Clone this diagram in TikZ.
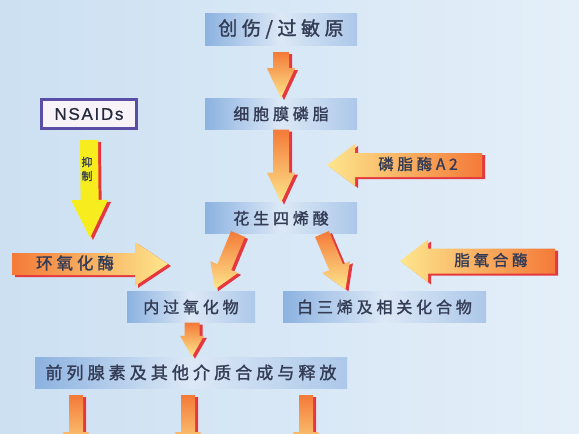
\documentclass[tikz,border=0pt]{standalone}
\usepackage{fontspec}
\newfontfamily\cjk[LetterSpace=24, FakeBold=1.6]{Noto Sans CJK SC}
\newfontfamily\latin[LetterSpace=10, FakeBold=0.8]{Liberation Sans}
\usetikzlibrary{calc}
\usetikzlibrary{positioning}

\definecolor{bgleft}{HTML}{CCE0F2}
\definecolor{bgright}{HTML}{E4EFF9}
\definecolor{boxdark}{HTML}{8CB2E0}
\definecolor{boxlight}{HTML}{DCE8F6}
\definecolor{ink}{HTML}{343C55}
\definecolor{tailorange}{HTML}{F47A38}
\definecolor{headyellow}{HTML}{FDE68C}
\definecolor{shadowred}{HTML}{E5383E}
\definecolor{inhibit}{HTML}{F6EC1E}
\definecolor{nsaidframe}{HTML}{5A4DA6}
\definecolor{nsaidfill}{HTML}{F7F3F9}

\tikzstyle{stage} = [minimum height=31pt, inner sep=0pt, text=ink,
left color=boxdark, right color=boxdark!60!boxlight, middle color=boxlight,
font=\cjk\fontsize{16}{16}\selectfont]
\tikzstyle{enzyme} = [inner sep=0pt, text=ink, font=\cjk\fontsize{15.5}{15.5}\selectfont]

\tikzset{
	fat shaft/.store in=\fatw, fat head/.store in=\fath, fat len/.store in=\fatl,
	fat shaft=8pt, fat head=14pt, fat len=30pt,
	fat/.style={preaction={fill=shadowred, transform canvas={xshift=3pt, yshift=-2pt}},
		to path={let \p1=(\tikztostart), \p2=(\tikztotarget),
			\n1={atan2(\y2-\y1,\x2-\x1)}, \n2={veclen(\x2-\x1,\y2-\y1)} in
			($(\p1)+(\n1+90:\fatw)$) -- ($(\p1)+(\n1:\n2-\fatl)+(\n1+90:\fatw)$)
			-- ($(\p1)+(\n1:\n2-\fatl)+(\n1+90:\fath)$) -- (\p2)
			-- ($(\p1)+(\n1:\n2-\fatl)+(\n1-90:\fath)$)
			-- ($(\p1)+(\n1:\n2-\fatl)+(\n1-90:\fatw)$)
			-- ($(\p1)+(\n1-90:\fatw)$) -- cycle}}
}

\begin{document}
\begin{tikzpicture}[x=1pt, y=-1pt,
	down/.style={fat, top color=tailorange, bottom color=headyellow},
	leftward/.style={fat, left color=headyellow, right color=tailorange,
		fat shaft=12pt, fat head=21pt, fat len=28pt}]
	\shade[left color=bgleft, right color=bgright] (0,0) rectangle (579,434);
	\useasboundingbox (0,0) rectangle (579,434);
	%% Stages
	\node[stage, minimum width=152pt, minimum height=32pt,
		font=\cjk\fontsize{19}{19}\selectfont] (trauma) at (281,29) {创伤/过敏原};
	\node[stage, minimum width=152pt, below=53pt of trauma] (membrane) {细胞膜磷脂};
	\node[stage, minimum width=152pt, below=73pt of membrane] (aa) {花生四烯酸};
	\node[stage, minimum width=128pt] (endo) at (191,307) {内过氧化物};
	\node[stage, minimum width=203pt] (leuko) at (384.5,307) {白三烯及相关化合物};
	\node[stage, minimum width=312pt, font=\cjk\fontsize{17}{17}\selectfont]
		(prost) at (191,372.5) {前列腺素及其他介质合成与释放};
	\node[draw=nsaidframe, line width=3pt, fill=nsaidfill, minimum width=95pt,
		minimum height=29pt, text=ink!70!black,
		font=\latin\fontsize{17}{17}\selectfont] (nsaids) at (89,114) {NSAIDs};
	%% Free ends
	\coordinate (pla2tail) at (482,165);
	\coordinate (pla2tip) at (327,165);
	\coordinate (loxtail) at (555,261);
	\coordinate (loxtip) at (400,261);
	\coordinate (coxtail) at (12,264);
	\coordinate (coxtip) at (168,264);
	\coordinate (blocktip) at (90,238);
	%% Flows
	\path[down] ([yshift=-7pt]trauma.south) to (membrane.north);
	\path[down] (membrane.south) to (aa.north);
	\path[down, fat shaft=7.5pt, fat head=15pt, fat len=24pt]
		([xshift=-43pt]aa.south) to ([xshift=24pt,yshift=2pt]endo.north);
	\path[down, fat shaft=7.5pt, fat head=15pt, fat len=24pt]
		([xshift=41pt]aa.south) to ([xshift=-39pt,yshift=2pt]leuko.north);
	\path[down, fat shaft=7.5pt, fat head=12pt, fat len=21pt]
		([xshift=1pt]endo.south) to ([xshift=1pt]prost.north);
	\foreach \x/\k in {76/1,188/2,306/3} {
		\coordinate (in\k) at (\x,395);
		\coordinate (out\k) at (\x,462);
		\path[down, fat shaft=7pt, fat head=13pt, fat len=30pt] (in\k) to (out\k);
	}
	\path[leftward] (pla2tail) to (pla2tip);
	\path[leftward, fat shaft=12.5pt, fat head=21.5pt] (loxtail) to (loxtip);
	\path[fat, left color=tailorange, right color=headyellow,
		fat shaft=11pt, fat head=22pt, fat len=33pt] (coxtail) to (coxtip);
	\path[fat, fill=inhibit, fat shaft=9pt, fat head=18.5pt, fat len=38pt]
		([yshift=-10pt]nsaids.south) to (blocktip);
	%% Enzyme labels
	\node[enzyme] (pla2) at (418,164) {磷脂酶A2};
	\node[enzyme] (lox) at (491,260) {脂氧合酶};
	\node[enzyme, font=\cjk\fontsize{16.5}{16.5}\selectfont] (cox) at (75,263) {环氧化酶};
	\node[enzyme, align=center, font=\cjk\fontsize{11}{14}\selectfont] (block) at (87,169) {抑\\制};
\end{tikzpicture}
\end{document}
